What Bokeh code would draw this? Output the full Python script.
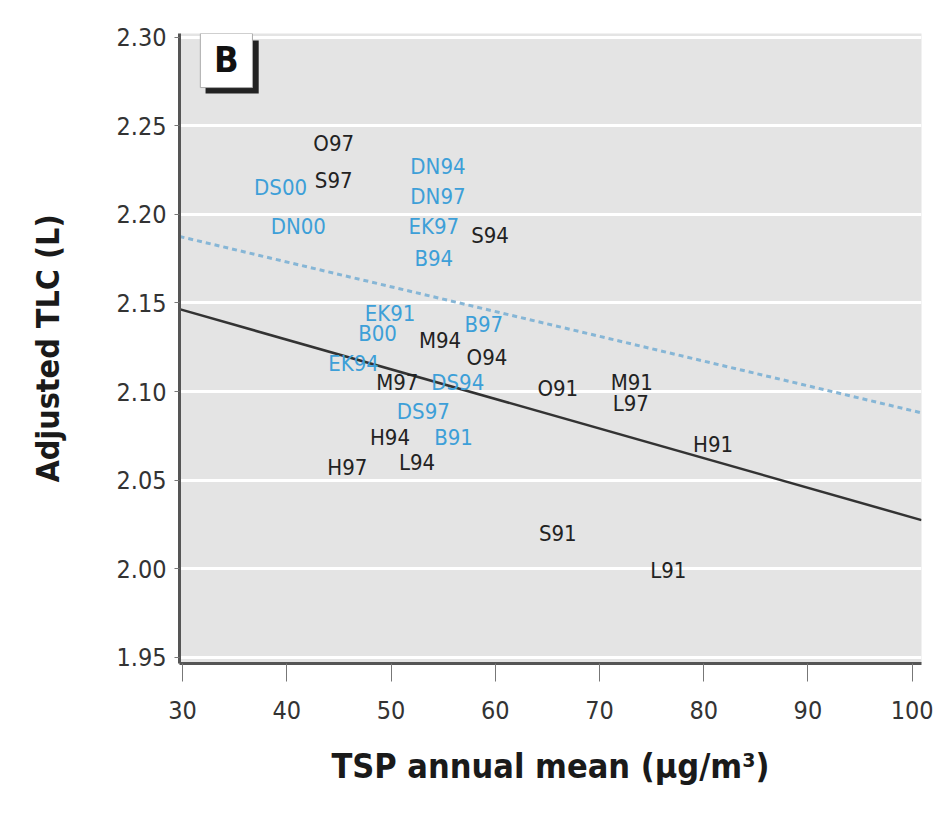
from bokeh.plotting import figure
from bokeh.models import FixedTicker, PrintfTickFormatter, ColumnDataSource
from bokeh.core.properties import value
from bokeh.embed import file_html
from bokeh.resources import INLINE

# ---- data ----
black_labels = ["O97", "S97", "S94", "M94", "O94", "M97", "O91", "M91", "L97",
                "H94", "H97", "L94", "H91", "S91", "L91"]
black_x = [44.5, 44.5, 59.5, 54.7, 59.2, 50.6, 66.0, 73.1, 73.0,
           49.9, 45.8, 52.5, 80.9, 66.0, 76.6]
black_y = [2.240, 2.219, 2.188, 2.129, 2.119, 2.105, 2.102, 2.105, 2.093,
           2.074, 2.057, 2.060, 2.070, 2.020, 1.999]

blue_labels = ["DS00", "DN00", "DN94", "DN97", "EK97", "B94", "EK91", "B00",
               "B97", "EK94", "DS94", "DS97", "B91"]
blue_x = [39.4, 41.1, 54.5, 54.5, 54.1, 54.1, 49.9, 48.7,
          58.9, 46.4, 56.4, 53.1, 56.0]
blue_y = [2.215, 2.193, 2.227, 2.210, 2.193, 2.175, 2.144, 2.133,
          2.138, 2.116, 2.105, 2.089, 2.074]

line_x = [29.7, 100.9]
black_fit_y = [2.1465, 2.0275]
blue_fit_y = [2.1875, 2.0880]

x_ticks = [30, 40, 50, 60, 70, 80, 90, 100]
y_ticks = [1.95, 2.00, 2.05, 2.10, 2.15, 2.20, 2.25, 2.30]

FONT = "'DejaVu Sans Condensed', 'DejaVu Sans', sans-serif"

p = figure(width=935, height=814, x_range=(29.7, 100.9), y_range=(1.9466, 2.302),
           output_backend="svg", toolbar_location=None,
           min_border_left=179, min_border_right=14, min_border_top=33,
           min_border_bottom=151)
p.background_fill_color = "#e4e4e4"
p.border_fill_color = "white"
p.outline_line_color = None

p.xgrid.grid_line_color = None
p.ygrid.grid_line_color = "white"
p.ygrid.grid_line_width = 3

p.xaxis.ticker = FixedTicker(ticks=x_ticks)
p.yaxis.ticker = FixedTicker(ticks=y_ticks)
p.yaxis.formatter = PrintfTickFormatter(format="%.2f")

for ax in (p.xaxis[0], p.yaxis[0]):
    ax.axis_line_color = "#555555"
    ax.axis_line_width = 3
    ax.major_tick_line_color = "#777777"
    ax.major_tick_line_width = 1
    ax.minor_tick_line_color = None
    ax.major_tick_in = 0
    ax.major_label_text_font = FONT
    ax.major_label_text_font_size = "25px"
    ax.major_label_text_color = "#333333"
    ax.axis_label_text_font = FONT
    ax.axis_label_text_font_style = "bold"
    ax.axis_label_text_color = "#1a1a1a"

p.xaxis.major_tick_out = 18
p.xaxis.major_label_standoff = 19
p.xaxis.axis_label = "TSP annual mean (\u03bcg/m\u00b3)"
p.xaxis.axis_label_standoff = 24
p.xaxis.axis_label_text_font_size = "34px"

p.yaxis.major_tick_out = 5
p.yaxis.major_label_standoff = 8
p.yaxis.axis_label = "Adjusted TLC (L)"
p.yaxis.axis_label_standoff = 46
p.yaxis.axis_label_text_font_size = "32px"

# fit lines
p.line(line_x, blue_fit_y, line_color="#86b6d6", line_width=3, line_dash="5 4")
p.line(line_x, black_fit_y, line_color="#333333", line_width=2.5)

# labels
src_k = ColumnDataSource(dict(x=black_x, y=black_y, t=black_labels))
src_b = ColumnDataSource(dict(x=blue_x, y=blue_y, t=blue_labels))
p.text(x="x", y="y", text="t", source=src_b, text_color="#3d9fd8",
       text_font=value(FONT), text_font_size="22px",
       text_align="center", text_baseline="middle")
p.text(x="x", y="y", text="t", source=src_k, text_color="#222222",
       text_font=value(FONT), text_font_size="22px",
       text_align="center", text_baseline="middle")

# panel label "B" with shadow box
p.quad(left=[32.2], right=[37.3], top=[2.298], bottom=[2.2681],
       fill_color="#222222", line_color=None)
p.quad(left=[31.7], right=[36.7], top=[2.302], bottom=[2.2715],
       fill_color="white", line_color="#aaaaaa", line_width=1)
p.text(x=[34.2], y=[2.2875], text=["B"], text_color="#111111",
       text_font=value(FONT), text_font_style="bold", text_font_size="36px",
       text_align="center", text_baseline="middle")

open("out.html", "w").write(file_html(p, INLINE))
